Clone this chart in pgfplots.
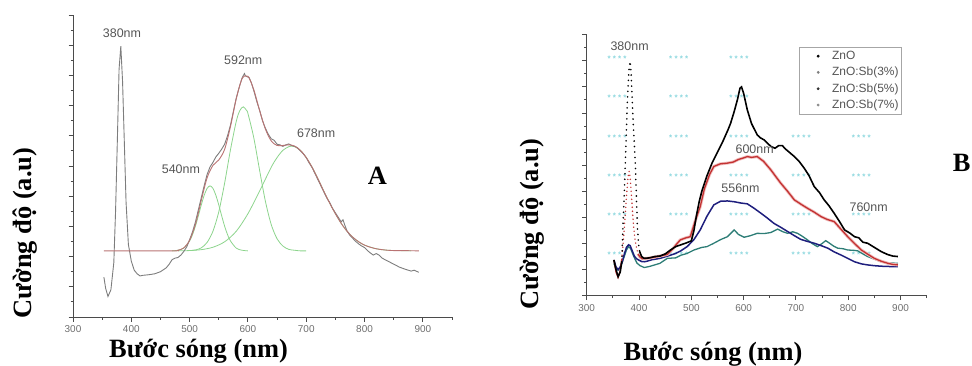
\documentclass[border=0pt]{standalone}
\usepackage{fontspec}
\setmainfont{Liberation Serif}
\newfontfamily\arial{Liberation Sans}
\usepackage{pgfplots}
\pgfplotsset{compat=1.18}
\usepackage{pgfplotstable}

\definecolor{axgray}{RGB}{75,75,75}
\definecolor{tkgray}{RGB}{110,110,110}
\definecolor{anngray}{RGB}{85,85,85}
\definecolor{curvegray}{RGB}{125,125,125}
\definecolor{fitred}{RGB}{185,115,115}
\definecolor{fitgreen}{RGB}{140,212,140}
\definecolor{bred}{RGB}{195,50,50}
\definecolor{bpink}{RGB}{240,190,190}
\definecolor{bblue}{RGB}{30,30,125}
\definecolor{bteal}{RGB}{45,125,118}
\definecolor{wm}{RGB}{140,215,222}

% ---------- Panel A data ----------
\pgfplotstableread{
x y
353 1.32
356 0.95
360 0.68
365 0.90
370 1.80
373 3.50
376 5.80
379 8.20
382 8.97
385 7.80
388 5.80
391 3.80
395 2.40
400 1.85
405 1.55
410 1.43
415 1.36
420 1.38
430 1.40
440 1.43
450 1.50
460 1.63
465 1.75
470 1.90
475 1.95
480 1.97
485 2.05
490 2.17
495 2.32
500 2.56
505 2.82
510 3.15
515 3.55
520 3.95
525 4.35
530 4.72
535 4.97
540 5.12
545 5.30
550 5.42
555 5.56
560 5.72
565 6.00
570 6.35
575 6.80
580 7.25
585 7.60
590 7.92
594 8.06
596 7.98
598 7.96
602 7.93
606 7.75
610 7.50
615 7.15
620 6.85
625 6.50
630 6.25
635 6.05
640 5.90
645 5.85
650 5.72
655 5.70
660 5.65
665 5.70
670 5.73
675 5.68
680 5.65
685 5.60
690 5.50
695 5.40
700 5.28
705 5.10
710 4.95
715 4.75
720 4.55
725 4.35
730 4.15
735 3.95
740 3.80
745 3.60
750 3.45
755 3.30
760 3.15
763 3.22
766 3.05
770 2.85
775 2.70
780 2.60
785 2.50
790 2.42
795 2.35
800 2.30
805 2.20
810 2.12
815 2.05
820 2.10
825 2.05
830 1.95
840 1.85
850 1.75
860 1.65
870 1.58
880 1.52
885 1.55
893 1.48
}\grayA

\pgfplotstableread{
x y
353 2.19
470 2.19
480 2.21
490 2.29
500 2.54
510 3.07
520 3.86
530 4.61
540 5.02
550 5.20
560 5.55
570 6.30
580 7.23
590 7.89
600 7.97
610 7.53
620 6.84
630 6.22
640 5.83
650 5.68
660 5.68
670 5.70
680 5.66
690 5.52
700 5.28
710 4.96
720 4.58
730 4.17
740 3.78
750 3.42
760 3.10
770 2.84
780 2.64
790 2.49
800 2.38
810 2.31
820 2.26
830 2.23
840 2.21
850 2.20
860 2.20
893 2.19
}\fitA

\pgfplotstableread{
x y
470 2.19
480 2.21
490 2.28
500 2.52
505 2.73
510 3.01
515 3.35
520 3.71
525 4.03
530 4.26
535 4.34
540 4.26
545 4.03
550 3.71
555 3.35
560 3.01
565 2.73
570 2.52
580 2.28
590 2.21
600 2.19
}\gaussA

\pgfplotstableread{
x y
500 2.20
510 2.22
520 2.29
530 2.47
540 2.84
550 3.48
560 4.43
570 5.53
580 6.48
586 6.83
592 6.96
598 6.83
600 6.74
610 5.94
620 4.86
630 3.83
640 3.06
650 2.59
660 2.35
670 2.24
680 2.21
690 2.19
700 2.19
}\gaussB

\pgfplotstableread{
x y
480 2.19
500 2.20
520 2.23
540 2.31
560 2.49
580 2.84
600 3.42
620 4.17
640 4.96
650 5.28
660 5.52
670 5.64
675 5.66
680 5.64
690 5.52
700 5.28
710 4.96
720 4.58
730 4.17
740 3.78
750 3.42
760 3.10
770 2.84
780 2.64
790 2.49
800 2.38
820 2.26
840 2.21
860 2.20
880 2.19
}\gaussC

% ---------- Panel B data ----------
\pgfplotstableread{
x y
352 1.37
356 1.00
360 0.73
364 0.90
367 1.30
}\znoL
\pgfplotstableread{
x y
367 1.30
369 2.50
372 4.00
375 5.80
378 7.60
381 8.70
383 8.98
385 8.50
388 7.00
391 5.80
393 5.00
395 3.80
397 2.60
399 2.00
401 1.70
}\znoP
\pgfplotstableread{
x y
401 1.70
405 1.50
410 1.43
420 1.45
430 1.50
440 1.52
450 1.60
460 1.75
470 1.88
480 1.95
490 2.02
500 2.10
505 2.50
510 3.10
515 3.60
520 4.00
530 4.60
540 5.10
550 5.50
560 5.90
570 6.35
575 6.60
582 7.06
588 7.50
593 7.95
596 8.00
600 7.75
607 7.12
615 6.60
626 6.16
632 6.05
639 5.97
652 5.72
660 5.65
667 5.75
674 5.75
680 5.62
690 5.45
697 5.33
706 5.15
716 4.88
725 4.60
735 4.18
745 3.95
754 3.67
763 3.45
773 3.16
783 2.85
793 2.52
803 2.40
812 2.26
820 2.22
828 2.05
837 2.01
850 1.85
863 1.69
875 1.58
885 1.52
895 1.50
}\znoR

\pgfplotstableread{
x y
352 1.37
356 0.90
360 0.70
364 0.95
367 1.40
}\sbtL
\pgfplotstableread{
x y
367 1.40
370 2.10
373 2.90
376 3.80
379 4.55
381 4.76
383 4.55
386 3.70
389 2.80
392 2.20
395 1.85
398 1.60
}\sbtP
\pgfplotstableread{
x y
398 1.60
402 1.48
406 1.42
415 1.43
430 1.48
445 1.54
454 1.58
465 1.80
472 1.98
479 2.14
490 2.22
498 2.26
508 2.90
517 3.41
525 4.10
535 4.65
543 4.95
555 5.05
569 5.08
580 5.12
590 5.22
600 5.28
607 5.33
615 5.30
626 5.33
638 5.15
652 4.82
662 4.55
671 4.31
684 4.00
697 3.67
710 3.50
722 3.35
735 3.20
748 3.03
760 2.92
773 2.84
786 2.55
799 2.26
812 2.00
825 1.75
838 1.58
850 1.43
863 1.32
876 1.24
885 1.20
895 1.18
}\sbtR

\pgfplotstableread{
x y
352 1.37
356 1.10
360 1.00
364 1.10
368 1.30
372 1.60
376 1.85
380 1.95
383 1.92
387 1.72
391 1.52
395 1.42
400 1.36
405 1.31
410 1.30
415 1.32
425 1.38
440 1.43
455 1.52
470 1.62
480 1.72
492 1.88
505 2.15
517 2.52
530 3.05
543 3.48
556 3.62
569 3.63
582 3.60
595 3.55
607 3.52
620 3.35
633 3.16
645 2.98
658 2.77
671 2.62
684 2.46
697 2.30
709 2.16
722 2.08
735 2.01
748 1.92
761 1.82
773 1.68
786 1.56
799 1.43
812 1.30
825 1.22
837 1.18
850 1.15
863 1.13
876 1.12
895 1.11
}\sbf

\pgfplotstableread{
x y
352 1.24
356 1.02
360 0.98
365 1.10
370 1.40
376 1.75
380 1.88
384 1.80
390 1.50
396 1.25
402 1.15
410 1.08
420 1.12
430 1.18
440 1.24
454 1.43
470 1.45
480 1.55
492 1.62
505 1.75
520 1.85
530 1.88
543 2.01
556 2.15
569 2.26
576 2.40
582 2.52
590 2.35
601 2.24
613 2.30
626 2.39
639 2.38
652 2.42
665 2.55
675 2.45
684 2.39
694 2.45
703 2.39
712 2.28
722 2.14
731 2.00
741 1.88
750 2.00
757 2.11
765 2.00
772 1.90
780 1.82
790 1.80
799 1.75
810 1.74
818 1.72
828 1.60
837 1.50
850 1.40
863 1.30
876 1.26
895 1.24
}\sbs

\tikzset{ann/.style={font=\arial\fontsize{12.5}{13}\selectfont, text=anngray},
  wmk/.style={font=\arial\fontsize{8}{8}\selectfont\bfseries, text=wm}}
\pgfplotsset{
  panel/.style={
    scale only axis,
    axis x line*=bottom, axis y line*=left,
    xmin=300, xmax=950, ymin=0, ymax=10,
    xtick={300,400,...,900},
    minor xtick={350,450,...,950},
    ytick={0,1,...,10}, yticklabels={},
    minor ytick={0.5,1.5,...,9.5},
    tick align=outside,
    major tick length=4.5bp, minor tick length=2.5bp,
    axis line style={axgray, line width=1bp},
    every tick/.style={axgray, line width=0.9bp},
    xticklabel style={font=\arial\fontsize{10}{10}\selectfont, text=tkgray, yshift=-1bp},
    /pgf/number format/assume math mode=true,
    /pgf/number format/1000 sep={},
    clip=false,
  },
}

\begin{document}
\begin{tikzpicture}[x=1bp,y=1bp]
\useasboundingbox (0,0) rectangle (972,365);

% ================= Panel A =================
\begin{axis}[panel, at={(73bp,48bp)}, anchor=south west, width=379bp, height=302bp]
\addplot[fitgreen, line width=0.8bp, smooth] table {\gaussA};
\addplot[fitgreen, line width=0.8bp, smooth] table {\gaussB};
\addplot[fitgreen, line width=0.8bp, smooth] table {\gaussC};
\addplot[curvegray, line width=0.9bp] table {\grayA};
\addplot[fitred, line width=0.9bp, smooth] table {\fitA};
\node[ann] at (axis cs:384,9.4) {380nm};
\node[ann] at (axis cs:592,8.49) {592nm};
\node[ann] at (axis cs:717,6.08) {678nm};
\node[ann] at (axis cs:485,4.9) {540nm};
\end{axis}

\node[rotate=90, font=\fontsize{26.5}{28}\selectfont\bfseries] at (25,132) {Cường độ (a.u)};
\node[anchor=base, font=\fontsize{26.5}{28}\selectfont\bfseries] at (198.5,8) {Bước sóng (nm)};
\node[anchor=base, font=\fontsize{26.5}{28}\selectfont\bfseries] at (377.5,181) {A};

% ================= Panel B =================
\begin{axis}[panel, at={(586.7bp,69.3bp)}, anchor=south west, width=340bp, height=261bp,
  legend style={at={(rel axis cs:0.927,0.953)}, anchor=north east,
    draw=gray!70, line width=0.6bp, fill=white,
    font=\arial\fontsize{12}{12}\selectfont, text=anngray,
    inner xsep=1bp, inner ysep=2bp, row sep=2.2bp},
  legend cell align=left,
  legend image code/.code={\path[draw=none,fill=none] (0bp,0) -- (30bp,0); \fill (18bp,0) circle (1.1bp);},
]
% faint watermark grid
\pgfplotsforeachungrouped \wx in {358,476,591}{%
  \pgfplotsforeachungrouped \wy in {9.07,7.57,6.07,4.57,3.06,1.56}{%
    \edef\tmp{\noexpand\node[wmk] at (axis cs:\wx,\wy) {* * * *};}\tmp
  }%
}
\pgfplotsforeachungrouped \wx in {710,825}{%
  \pgfplotsforeachungrouped \wy in {6.07,4.57,3.06,1.56}{%
    \edef\tmp{\noexpand\node[wmk] at (axis cs:\wx,\wy) {* * * *};}\tmp
  }%
}
\addplot[forget plot, bteal, line width=1.3bp] table {\sbs};
\addplot[forget plot, bblue, line width=1.5bp] table {\sbf};
\addplot[forget plot, bpink, line width=3bp] table {\sbtR};
\addplot[forget plot, bred, line width=1.3bp] table {\sbtL};
\addplot[forget plot, bred, line width=1.6bp, line cap=round, dash pattern=on 0pt off 4bp] table {\sbtP};
\addplot[forget plot, bred, line width=1.3bp] table {\sbtR};
\addplot[forget plot, black, line width=1.6bp] table {\znoL};
\addplot[forget plot, black, line width=1.8bp, line cap=round, dash pattern=on 0pt off 5.5bp] table {\znoP};
\addplot[forget plot, black, line width=1.6bp] table {\znoR};
\addlegendimage{black}
\addlegendentry{ZnO}
\addlegendimage{gray}
\addlegendentry{ZnO:Sb(3\%)}
\addlegendimage{black!80}
\addlegendentry{ZnO:Sb(5\%)}
\addlegendimage{gray!90}
\addlegendentry{ZnO:Sb(7\%)}
\node[ann] at (axis cs:382,9.55) {380nm};
\node[ann] at (axis cs:621,5.63) {600nm};
\node[ann] at (axis cs:594,4.10) {556nm};
\node[ann] at (axis cs:839,3.39) {760nm};
\end{axis}

\node[rotate=90, font=\fontsize{26.5}{28}\selectfont\bfseries] at (532.5,141) {Cường độ (a.u)};
\node[anchor=base, font=\fontsize{26.5}{28}\selectfont\bfseries] at (713,5) {Bước sóng (nm)};
\node[anchor=base, font=\fontsize{26.5}{28}\selectfont\bfseries] at (961.7,193.3) {B};
\end{tikzpicture}
\end{document}
